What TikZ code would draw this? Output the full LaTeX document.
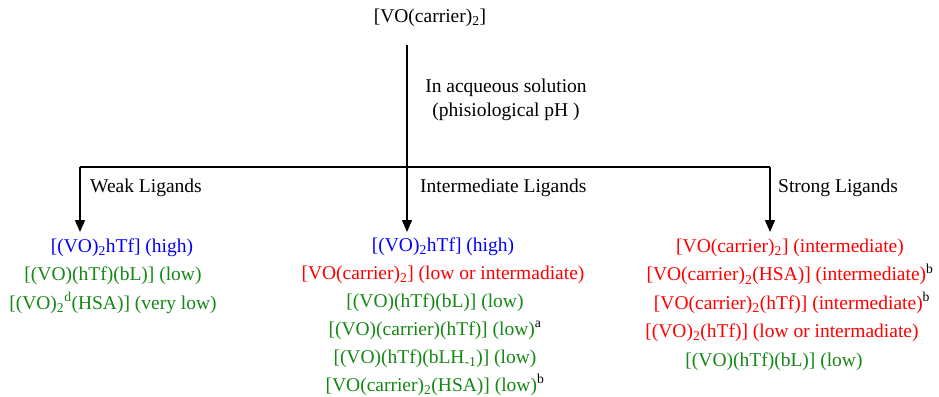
\documentclass[tikz,border=0pt]{standalone}
\usepackage{fontspec}
\setmainfont{Liberation Serif}
\usepackage{xcolor}
\usetikzlibrary{arrows.meta,positioning}
\definecolor{cblue}{RGB}{0,0,255}
\definecolor{cred}{RGB}{255,0,0}
\definecolor{cgreen}{RGB}{20,135,20}

\begin{document}
\begin{tikzpicture}[x=1pt,y=-1pt,
txt/.style={inner sep=0pt,font=\fontsize{19.5}{24}\selectfont},
cpx/.style={txt,text height=14pt,text depth=5pt},
arr/.style={-{Triangle[length=12pt,width=10pt]},line width=1.4pt},
ln/.style={line width=1.4pt}]
\useasboundingbox (0,0) rectangle (939,396);
\node[txt] (src) at (430,18) {[VO(carrier)\textsubscript{2}]};
\coordinate (top) at (407,45);
\coordinate (split) at (407,167);
\coordinate (lc) at (80,167);
\coordinate (rc) at (770,167);
\coordinate (la) at (80,232);
\coordinate (ma) at (407,232);
\coordinate (ra) at (770,232);
\node[txt,align=center] (cond) at (506,100) {In acqueous solution\\(phisiological pH )};
\draw[ln] (top) -- (split);
\draw[ln] (lc) -- (rc);
\draw[arr] (lc) -- (la); \draw[arr] (split) -- (ma); \draw[arr] (rc) -- (ra);
\node[txt,anchor=west] (weak) at (90,188) {Weak Ligands};
\node[txt,anchor=west] (inter) at (420,188) {Intermediate Ligands};
\node[txt,anchor=west] (strong) at (778,188) {Strong Ligands};
% weak ligands
\node[cpx,text=cblue] (w1) at (122,248) {[(VO)\textsubscript{2}hTf] (high)};
\node[cpx,text=cgreen,below=9pt of w1,xshift=-9pt] (w2) {[(VO)(hTf)(bL)] (low)};
\node[cpx,text=cgreen,below=9pt of w2] (w3) {[(VO)\textsubscript{2}\textsuperscript{d}(HSA)] (very low)};
% intermediate ligands
\node[cpx,text=cblue] (i1) at (443,247) {[(VO)\textsubscript{2}hTf] (high)};
\node[cpx,text=cred,below=8.5pt of i1] (i2) {[VO(carrier)\textsubscript{2}] (low or intermadiate)};
\node[cpx,text=cgreen,below=8.5pt of i2,xshift=-8pt] (i3) {[(VO)(hTf)(bL)] (low)};
\node[cpx,text=cgreen,below=8.5pt of i3] (i4) {[(VO)(carrier)(hTf)] (low)\textsuperscript{\color{black}a}};
\node[cpx,text=cgreen,below=8.5pt of i4] (i5) {[(VO)(hTf)(bLH\textsubscript{-1})] (low)};
\node[cpx,text=cgreen,below=8.5pt of i5] (i6) {[VO(carrier)\textsubscript{2}(HSA)] (low)\textsuperscript{\color{black}b}};
% strong ligands
\node[cpx,text=cred] (s1) at (790,248) {[VO(carrier)\textsubscript{2}] (intermediate)};
\node[cpx,text=cred,below=9pt of s1] (s2) {[VO(carrier)\textsubscript{2}(HSA)] (intermediate)\textsuperscript{\color{black}b}};
\node[cpx,text=cred,below=9pt of s2,xshift=2pt] (s3) {[VO(carrier)\textsubscript{2}(hTf)] (intermediate)\textsuperscript{\color{black}b}};
\node[cpx,text=cred,below=9pt of s3,xshift=-10pt] (s4) {[(VO)\textsubscript{2}(hTf)] (low or intermadiate)};
\node[cpx,text=cgreen,below=9pt of s4,xshift=-8pt] (s5) {[(VO)(hTf)(bL)] (low)};
\end{tikzpicture}
\end{document}
